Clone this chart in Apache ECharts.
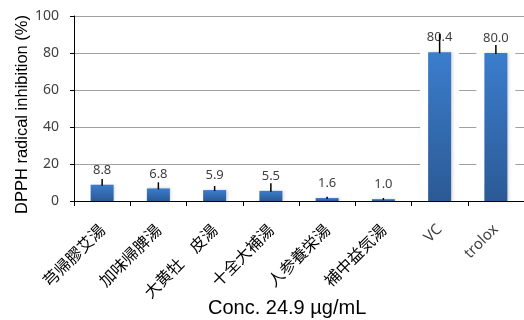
<!DOCTYPE html>
<html>
<head>
<meta charset="utf-8">
<script src="https://cdn.jsdelivr.net/npm/echarts@6/dist/echarts.min.js"></script>
<style>html,body{margin:0;padding:0;background:#fff}#c{width:524px;height:320px}</style>
</head>
<body>
<div id="c"></div>
<script>
const categories = ['芎帰膠艾湯', '加味帰脾湯', '大黄牡　皮湯', '十全大補湯', '人参養栄湯', '補中益気湯', 'VC', 'trolox'];
const inhibition = [8.8, 6.8, 5.9, 5.5, 1.6, 1.0, 80.4, 80.0];
const errors = [3.1, 3.3, 2.2, 4.1, 0.7, 0.6, 9.9, 4.3];
const yTicks = [0, 20, 40, 60, 80, 100];
const yTitle = 'DPPH radical inhibition (%)';
const xTitle = 'Conc. 24.9 µg/mL';

const chart = echarts.init(document.getElementById('c'), null, {renderer: 'canvas'});
const BAR_W = 23, HALO = 8;
const latin = new Set(['VC', 'trolox']);

chart.setOption({
  animation: false,
  title: {
    text: xTitle, left: 203, top: 293,
    textStyle: {fontFamily: 'Liberation Sans', fontSize: 20, fontWeight: 'normal', color: '#000'}
  },
  grid: {left: 74, top: 16, width: 452, height: 185, containLabel: false},
  xAxis: {
    type: 'category',
    data: categories.map(c => latin.has(c)
      ? {value: c, textStyle: {color: '#404040', fontFamily: 'Noto Sans', fontSize: 15}}
      : {value: c}),
    axisLine: {lineStyle: {color: '#000', width: 1}},
    axisTick: {show: true, alignWithLabel: false, length: 5, lineStyle: {color: '#000'}},
    axisLabel: {
      interval: 0, rotate: 45, margin: 26,
      fontFamily: 'Noto Sans CJK JP', fontSize: 16, color: '#000'
    },
    splitLine: {show: false}
  },
  yAxis: {
    type: 'value', min: yTicks[0], max: yTicks[yTicks.length - 1], interval: 20,
    name: yTitle, nameLocation: 'middle', nameGap: 43, nameMoveOverlap: false,
    nameTextStyle: {fontFamily: 'Liberation Sans', fontSize: 16.5, color: '#000', padding: [0, 12, 0, 0]},
    axisLine: {show: true, lineStyle: {color: '#000', width: 1}},
    axisTick: {show: true, length: 4, lineStyle: {color: '#000'}},
    axisLabel: {margin: 15, fontFamily: 'Noto Sans', fontSize: 14, color: '#404040'},
    splitLine: {show: true, lineStyle: {color: '#a0a0a0', width: 1.2}}
  },
  series: [
    {
      type: 'custom', z: 1, silent: true,
      data: inhibition.map((v, i) => [i, v]),
      renderItem: (params, api) => {
        const top = api.coord([api.value(0), api.value(1)]);
        const base = api.coord([api.value(0), 0]);
        const w = BAR_W + 2 * HALO;
        return {type: 'rect', shape: {x: top[0] - w / 2, y: top[1], width: w, height: base[1] - top[1] - 1},
                style: {fill: '#fff'}};
      }
    },
    {
      type: 'bar', z: 2, barWidth: BAR_W,
      data: inhibition,
      itemStyle: {
        color: new echarts.graphic.LinearGradient(0, 0, 0, 1, [
          {offset: 0, color: '#3b7dcd'}, {offset: 1, color: '#2b5a95'}
        ]),
        shadowColor: 'rgba(0,0,0,0.18)', shadowBlur: 3, shadowOffsetX: 1.5, shadowOffsetY: 0
      },
      label: {
        show: true, position: 'top', distance: 8,
        fontFamily: 'Noto Sans', fontSize: 13, color: '#404040',
        formatter: p => p.value.toFixed(1)
      }
    },
    {
      type: 'custom', z: 3, silent: true,
      data: inhibition.map((v, i) => [i, v, errors[i]]),
      renderItem: (params, api) => {
        const i = api.value(0), v = api.value(1), e = api.value(2);
        const p0 = api.coord([i, v]);
        const p1 = api.coord([i, v + e]);
        return {type: 'line', shape: {x1: p0[0], y1: p0[1] + 1, x2: p1[0], y2: p1[1]},
                style: {stroke: '#000', lineWidth: 1.5}};
      }
    }
  ]
});
</script>
</body>
</html>
